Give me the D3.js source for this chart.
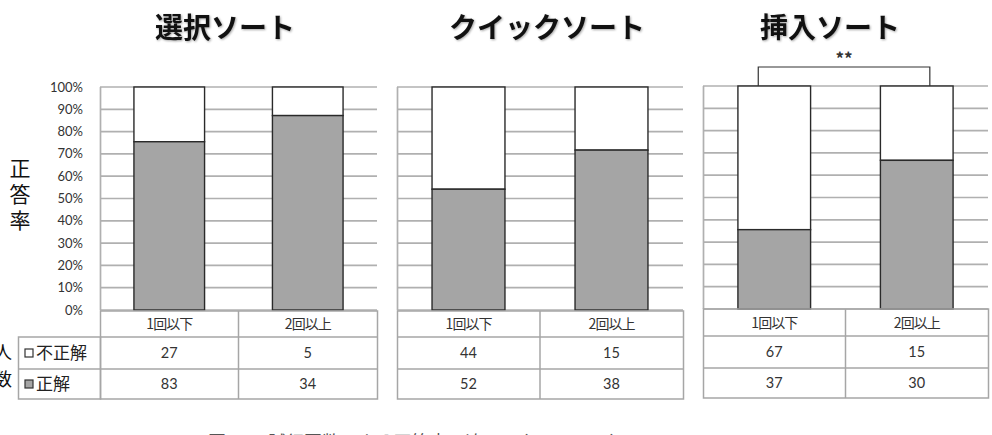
<!DOCTYPE html>
<html><head><meta charset="utf-8">
<script src="https://cdn.jsdelivr.net/npm/d3@7"></script>
<style>
html,body{margin:0;padding:0;background:#fff;overflow:hidden}
svg{display:block}
</style></head>
<body>
<script>
const sorts = ["選択ソート", "クイックソート", "挿入ソート"];
const groups = ["1回以下", "2回以上"];
const incorrect = [[27, 5], [44, 15], [67, 15]];
const correct = [[83, 34], [52, 38], [37, 30]];
const pctTicks = [0, 10, 20, 30, 40, 50, 60, 70, 80, 90, 100];
const legendLabels = ["不正解", "正解"];
const significance = ["", "", "**"];
const yTitle = "正答率";
const rowTitle = "人数";
const caption = "図 12　試行回数による正答率の違い　（**p < 0.01）";

const W = 992, H = 435;
const svg = d3.select("body").append("svg").attr("width", W).attr("height", H);

const panels = [
  {x0: 100, x1: 377, top: 87, bottom: 310, tcx: 225, dy: 0},
  {x0: 397, x1: 683, top: 87, bottom: 310, tcx: 547, dy: 0},
  {x0: 703, x1: 988, top: 86, bottom: 309, tcx: 830, dy: -1}
];
const gridColor = "#b0b0b0", tableColor = "#a6a6a6", textColor = "#333";
const barFill = "#a5a5a5", barStroke = "#2a2a2a";
const numFont = "Lato, 'Noto Sans CJK JP', sans-serif";
const jpFont = "'Noto Sans CJK JP', sans-serif";

panels.forEach((p, i) => {
  const g = svg.append("g");
  const y = d3.scaleLinear().domain([0, 100]).range([p.bottom, p.top]);
  const x = d3.scaleBand().domain(groups).range([p.x0, p.x1]).paddingInner(0.49).paddingOuter(0.245);
  const xc = d3.scaleBand().domain(groups).range([p.x0, p.x1]).padding(0);

  g.append("g").selectAll("line").data(pctTicks).join("line")
    .attr("x1", p.x0).attr("x2", p.x1)
    .attr("y1", d => y(d)).attr("y2", d => y(d))
    .attr("stroke", gridColor).attr("stroke-width", 1.7);
  g.append("line").attr("x1", p.x0 + 0.5).attr("x2", p.x0 + 0.5)
    .attr("y1", p.top).attr("y2", p.bottom)
    .attr("stroke", gridColor).attr("stroke-width", 1.7);

  if (i === 0) {
    g.append("g").selectAll("text").data(pctTicks).join("text")
      .attr("x", 83).attr("y", d => y(d) + 4.5)
      .attr("text-anchor", "end")
      .attr("font-family", numFont).attr("font-size", 13)
      .attr("fill", textColor).text(d => d + "%");
  }

  const data = groups.map((grp, j) => {
    const tot = correct[i][j] + incorrect[i][j];
    return {grp, c: correct[i][j] / tot * 100};
  });
  g.append("g").selectAll("rect.inc").data(data).join("rect")
    .attr("x", d => x(d.grp)).attr("width", x.bandwidth())
    .attr("y", y(100)).attr("height", d => y(d.c) - y(100))
    .attr("fill", "#fff").attr("stroke", barStroke).attr("stroke-width", 1.4);
  g.append("g").selectAll("rect.cor").data(data).join("rect")
    .attr("x", d => x(d.grp)).attr("width", x.bandwidth())
    .attr("y", d => y(d.c)).attr("height", d => y(0) - y(d.c))
    .attr("fill", barFill).attr("stroke", barStroke).attr("stroke-width", 1.4);

  svg.append("text").attr("x", p.tcx).attr("y", 38)
    .attr("text-anchor", "middle")
    .attr("font-family", jpFont).attr("font-weight", "bold")
    .attr("font-size", 28).attr("fill", "#111")
    .style("filter", "drop-shadow(1px 1px 1px rgba(0,0,0,0.35))")
    .text(sorts[i]);

  if (significance[i]) {
    const bx0 = x(groups[0]) + x.bandwidth() * 0.28;
    const bx1 = x(groups[1]) + x.bandwidth() * 0.68;
    g.append("path")
      .attr("d", `M${bx0},${p.top} V67 H${bx1} V${p.top}`)
      .attr("fill", "none").attr("stroke", "#333").attr("stroke-width", 1.2);
    g.append("text").attr("x", (bx0 + bx1) / 2).attr("y", 65)
      .attr("text-anchor", "middle").attr("font-family", jpFont)
      .attr("font-size", 17).attr("font-weight", "bold").attr("fill", "#333")
      .text(significance[i]);
  }

  const t0 = p.bottom + p.dy + 1, r1 = 337 + p.dy, r2 = 369 + p.dy, r3 = 399 + p.dy;
  const tbl = g.append("g").attr("stroke", tableColor).attr("stroke-width", 1.5).attr("fill", "none");
  tbl.append("rect").attr("x", p.x0 + 0.5).attr("y", t0).attr("width", p.x1 - p.x0).attr("height", r3 - t0);
  [r1, r2].forEach(ry => tbl.append("line").attr("x1", p.x0).attr("x2", p.x1).attr("y1", ry).attr("y2", ry));
  tbl.append("line").attr("x1", xc(groups[1])).attr("x2", xc(groups[1])).attr("y1", t0).attr("y2", r3);

  const tx = g.append("g").attr("fill", textColor).attr("text-anchor", "middle");
  groups.forEach((grp, j) => {
    const cx = xc(grp) + xc.bandwidth() / 2;
    tx.append("text").attr("x", cx).attr("y", (t0 + r1) / 2 + 5)
      .attr("font-family", jpFont).attr("font-size", 14).attr("letter-spacing", -1).text(grp);
    tx.append("text").attr("x", cx).attr("y", (r1 + r2) / 2 + 5)
      .attr("font-family", numFont).attr("font-size", 14.5).text(incorrect[i][j]);
    tx.append("text").attr("x", cx).attr("y", (r2 + r3) / 2 + 5)
      .attr("font-family", numFont).attr("font-size", 14.5).text(correct[i][j]);
  });

  if (i === 0) {
    const lx0 = 18.5;
    tbl.append("rect").attr("x", lx0).attr("y", r1).attr("width", p.x0 - lx0 + 0.5).attr("height", r3 - r1);
    tbl.append("line").attr("x1", lx0).attr("x2", p.x0).attr("y1", r2).attr("y2", r2);
    const leg = [{fill: "#fff", y: (r1 + r2) / 2}, {fill: barFill, y: (r2 + r3) / 2}];
    leg.forEach((l, k) => {
      g.append("rect").attr("x", 25).attr("y", l.y - 4).attr("width", 8).attr("height", 8)
        .attr("fill", l.fill).attr("stroke", "#333").attr("stroke-width", 1.2);
      g.append("text").attr("x", 36).attr("y", l.y + 6)
        .attr("font-family", jpFont).attr("font-size", 17).attr("fill", "#222")
        .text(legendLabels[k]);
    });
  }
});

yTitle.split("").forEach((ch, k) => {
  svg.append("text").attr("font-family", jpFont).attr("font-size", 21).attr("fill", "#111")
    .attr("text-anchor", "middle").attr("x", 20).attr("y", 176 + k * 26).text(ch);
});
rowTitle.split("").forEach((ch, k) => {
  svg.append("text").attr("font-family", jpFont).attr("font-size", 18).attr("fill", "#111")
    .attr("text-anchor", "middle").attr("x", 3).attr("y", 359 + k * 27).text(ch);
});

svg.append("text").attr("x", 208).attr("y", 449)
  .attr("font-family", jpFont).attr("font-size", 18).attr("fill", "#555")
  .text(caption);
</script>
</body></html>
